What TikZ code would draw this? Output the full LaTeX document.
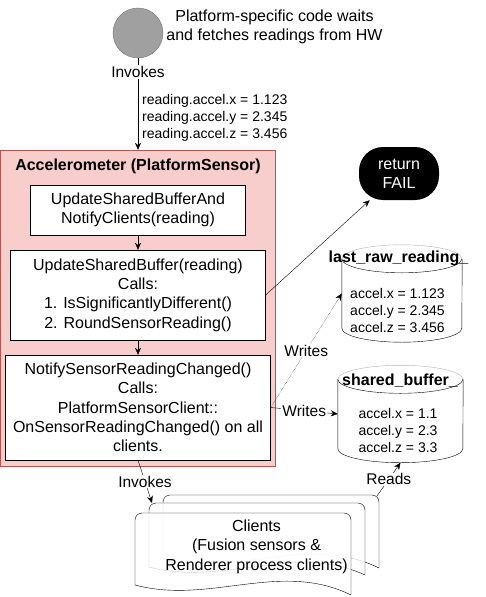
\documentclass[tikz,border=0pt]{standalone}
\usepackage{fontspec}
\setmainfont{Liberation Sans}
\usetikzlibrary{calc,arrows.meta}
\definecolor{sensor-pink}{HTML}{F8CECC}
\definecolor{sensor-red}{HTML}{B85450}
\definecolor{hw-gray}{HTML}{A0A0A0}
\definecolor{hw-border}{HTML}{707070}
\tikzstyle{call}=[-{Stealth[length=7pt,width=6pt]},black]
\tikzstyle{funcbox}=[draw=black,fill=white,align=center,inner sep=0pt,font=\fontsize{16}{19.3}\selectfont]
\tikzstyle{edgelabel}=[fill=white,inner sep=1pt,font=\fontsize{15.5}{18}\selectfont]
\tikzstyle{datatext}=[align=center,font=\fontsize{14}{17}\selectfont]
\tikzstyle{dbtitle}=[font=\bfseries\fontsize{16}{19}\selectfont]
\newcommand{\drawdb}[2]{ % #1 = node name, #2 = half width
  \pgfmathsetmacro{\dbrad}{#2}
  \draw[black] ($(#1.north west)+(0pt,-14pt)$) -- ($(#1.south west)+(0pt,14pt)$)
    arc[start angle=180,end angle=360,x radius=\dbrad pt,y radius=14pt] -- ($(#1.north east)+(0pt,-14pt)$);
  \draw[gray!60] ($(#1.north west)+(0pt,-14pt)$) arc[start angle=180,end angle=0,x radius=\dbrad pt,y radius=14pt];
  \draw[black] ($(#1.north west)+(0pt,-14pt)$) arc[start angle=180,end angle=360,x radius=\dbrad pt,y radius=14pt];
}
\newcommand{\clientpage}[4]{ % top left corner (#1,#2), drop on the left #3, drop on the right #4
  \filldraw[fill=white,fill opacity=0.8,draw=black] (#1,#2+#3) [rounded corners=7pt] -- (#1,#2) -- (#1+216,#2) [sharp corners] -- (#1+216,#2+#4)
    .. controls (#1+145,#2+#3-25) and (#1+75,#2+#3+20) .. (#1,#2+#3) -- cycle;
}

\begin{document}
\begin{tikzpicture}[x=1pt,y=-1pt]
	\useasboundingbox (0,0) rectangle (485,597);
	% hardware side
	\node[circle,fill=hw-gray,draw=hw-border,minimum size=50pt,inner sep=0pt] (hw) at (138,33) {};
	\node[align=center,font=\fontsize{16}{19}\selectfont] (hwnote) at (274.5,26.5) {Platform-specific code waits\\and fetches readings from HW};
	% platform sensor
	\node[draw=sensor-red,fill=sensor-pink,minimum width=275pt,minimum height=316pt,inner sep=0pt] (accel) at (138,308) {};
	\node[dbtitle] (acceltitle) at (138,166) {Accelerometer (PlatformSensor)};
	\draw[call] (hw) -- (accel.north) node[edgelabel,pos=0.15] (invokeshw) {Invokes};
	\node[anchor=west,align=left,inner sep=1pt,font=\fontsize{14}{17}\selectfont] (readingvals) at (141,118) {reading.accel.x = 1.123\\reading.accel.y = 2.345\\reading.accel.z = 3.456};
	\node[funcbox,minimum width=215pt,minimum height=50pt] (notify) at (138,210) {UpdateSharedBufferAnd\\NotifyClients(reading)};
	\node[funcbox,minimum width=255pt,minimum height=90pt] (update) at (138,295) {UpdateSharedBuffer(reading)\\Calls:\\1. IsSignificantlyDifferent()\\2. RoundSensorReading()};
	\node[funcbox,minimum width=265pt,minimum height=105pt] (changed) at (138,407.5) {NotifySensorReadingChanged()\\Calls:\\PlatformSensorClient::\\OnSensorReadingChanged() on all\\clients.};
	\draw[call] (notify) -- (update);
	\draw[call] (update) -- (changed);
	% fail path
	\node[fill=black,rounded corners=24pt,minimum width=80pt,minimum height=53pt,text=white,align=center,font=\fontsize{16}{19}\selectfont] (fail) at (399,173.5) {return\\FAIL};
	\draw[call] (update.east) -- (fail);
	% stored readings
	\node[minimum width=120pt,minimum height=97pt,inner sep=0pt] (lastraw) at (402,293.5) {};
	\drawdb{lastraw}{60}
	\node[dbtitle] (lastrawtitle) at (398.5,258) {last\_raw\_reading\_};
	\node[datatext] (lastrawvals) at (397.5,310) {accel.x = 1.123\\accel.y = 2.345\\accel.z = 3.456};
	\node[minimum width=125pt,minimum height=97pt,inner sep=0pt] (shared) at (400.5,414) {};
	\drawdb{shared}{62.5}
	\node[dbtitle] (sharedtitle) at (400,381) {shared\_buffer\_};
	\node[datatext] (sharedvals) at (398,430) {accel.x = 1.1\\accel.y = 2.3\\accel.z = 3.3};
	\draw[call,densely dotted] (changed.east) -- (lastraw.west) node[edgelabel,midway] (writesraw) {Writes};
	\draw[call] (changed.east) -- (shared.west) node[edgelabel,midway] (writesbuf) {Writes};
	% clients
	\clientpage{163}{495}{63}{73}
	\clientpage{149}{503}{64}{72}
	\clientpage{135}{513}{72}{82}
	\coordinate (midcorner) at (152,503);
	\coordinate (backcorner) at (377,496);
	\node[align=center,font=\fontsize{16}{19.5}\selectfont] (clients) at (256.5,546.5) {Clients\\(Fusion sensors \&\\Renderer process clients)};
	\draw[call] (changed.south) -- (midcorner) node[edgelabel,midway] (invokesclients) {Invokes};
	\draw[call] (backcorner) -- (shared.south) node[edgelabel,midway] (readsbuf) {Reads};
\end{tikzpicture}
\end{document}
